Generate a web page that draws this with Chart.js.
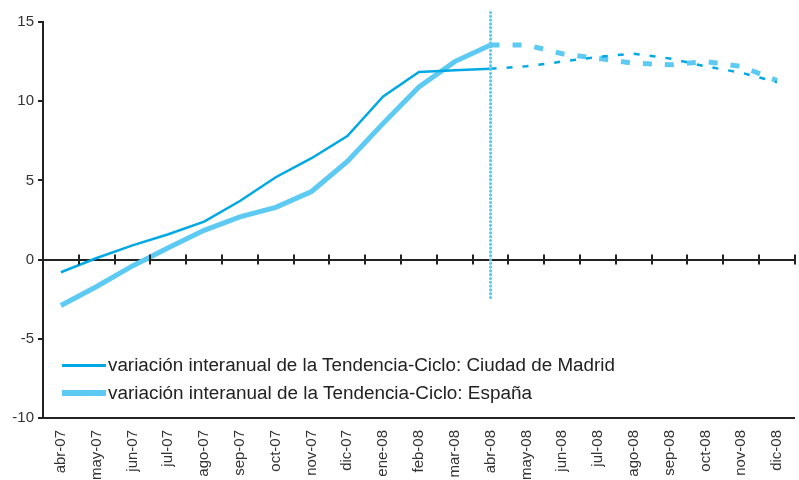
<!DOCTYPE html>
<html>
<head>
<meta charset="utf-8">
<script src="https://cdn.jsdelivr.net/npm/chart.js@4/dist/chart.umd.min.js"></script>
<style>
  html, body { margin: 0; padding: 0; background: #fff; }
  #wrap { position: relative; width: 799px; height: 480px; }
  .sw { position: absolute; left: 62px; width: 44px; }
  .lbl { position: absolute; left: 108px; font-family: "Liberation Sans", Arial, sans-serif; font-size: 18px; color: #222; white-space: nowrap; line-height: 20px; transform-origin: left center; }
</style>
</head>
<body>
<div id="wrap">
  <canvas id="chart" width="799" height="480"></canvas>
  <div class="sw" style="top:364px;height:3px;background:#00a8e4"></div>
  <div class="lbl" id="l1" style="top:355px">variación interanual de la Tendencia-Ciclo: Ciudad de Madrid</div>
  <div class="sw" style="top:390px;height:6px;background:#5ccaf2"></div>
  <div class="lbl" id="l2" style="top:383px">variación interanual de la Tendencia-Ciclo: España</div>
</div>
<script>
const months = ['abr-07', 'may-07', 'jun-07', 'jul-07', 'ago-07', 'sep-07', 'oct-07', 'nov-07', 'dic-07',
  'ene-08', 'feb-08', 'mar-08', 'abr-08', 'may-08', 'jun-08', 'jul-08', 'ago-08', 'sep-08', 'oct-08', 'nov-08', 'dic-08'];
const madrid = [-0.8, 0.1, 0.9, 1.6, 2.4, 3.7, 5.2, 6.4, 7.8, 10.3, 11.85, 11.95, 12.05,
  12.2, 12.5, 12.8, 13.0, 12.7, 12.2, 11.8, 11.2];
const espana = [-2.9, -1.7, -0.4, 0.75, 1.85, 2.7, 3.3, 4.3, 6.2, 8.6, 10.9, 12.5, 13.55,
  13.55, 13.0, 12.7, 12.4, 12.3, 12.5, 12.2, 11.3];
const yTicks = [-10, -5, 0, 5, 10, 15];
const forecastFrom = 12;          // index of abr-08, where the forecast starts
const cutLine = [15.6, -2.6];     // vertical dotted marker at abr-08

const FONT = '"Liberation Sans", Arial, sans-serif';

// fit legend text to the width seen in the reference
[['l1', 507], ['l2', 424]].forEach(([id, w]) => {
  const el = document.getElementById(id);
  el.style.transform = 'scaleX(' + (w / el.offsetWidth) + ')';
});

const dashAfter = (dash) => ctx => ctx.p0DataIndex >= forecastFrom ? dash : undefined;

// tick marks crossing the zero axis
const crossTicks = {
  id: 'crossTicks',
  afterDraw(chart) {
    const xs = chart.scales.x;
    const y0 = chart.scales.y.getPixelForValue(0);
    const step = xs.width / months.length;
    const ctx = chart.ctx;
    ctx.save();
    ctx.strokeStyle = '#222';
    ctx.lineWidth = 2;
    ctx.beginPath();
    for (let i = 1; i <= months.length; i++) {
      const px = Math.round(xs.left + i * step);
      ctx.moveTo(px, y0 - 5);
      ctx.lineTo(px, y0 + 5);
    }
    ctx.stroke();
    ctx.restore();
  }
};

new Chart(document.getElementById('chart'), {
  type: 'line',
  data: {
    labels: months,
    datasets: [
      {
        data: cutLine.map(v => ({ x: months[forecastFrom], y: v })),
        borderColor: '#5ccaf2',
        borderWidth: 3.2,
        borderDash: [0, 3.8],
        borderCapStyle: 'round',
        pointRadius: 0,
        clip: false
      },
      {
        data: madrid,
        borderColor: '#00a8e4',
        borderWidth: 2.5,
        pointRadius: 0,
        tension: 0,
        segment: { borderDash: dashAfter([6, 10]) }
      },
      {
        data: espana,
        borderColor: '#5ccaf2',
        borderWidth: 5,
        pointRadius: 0,
        tension: 0,
        segment: { borderDash: dashAfter([9, 13]) }
      }
    ]
  },
  options: {
    responsive: false,
    animation: false,
    layout: { padding: { top: 22, right: 0, left: 0, bottom: 0 } },
    plugins: { legend: { display: false }, tooltip: { enabled: false } },
    scales: {
      x: {
        type: 'category',
        position: { y: 0 },
        offset: true,
        ticks: { display: false },
        grid: { display: false },
        border: { color: '#222', width: 2 }
      },
      x2: {
        type: 'category',
        labels: months,
        position: 'bottom',
        offset: true,
        grid: { display: false },
        border: { color: '#222', width: 2 },
        ticks: { minRotation: 90, maxRotation: 90, autoSkip: false, color: '#333', padding: 4,
                 font: { family: FONT, size: 15 } },
        afterFit: s => { s.height = 62; }
      },
      y: {
        min: -10,
        max: 15,
        afterBuildTicks: s => { s.ticks = yTicks.map(v => ({ value: v })); },
        ticks: { color: '#333', padding: 4, font: { family: FONT, size: 15 } },
        grid: { drawOnChartArea: false, tickLength: 5, color: '#222', lineWidth: 2 },
        border: { color: '#222', width: 2 },
        afterFit: s => { s.width = 43; }
      }
    }
  },
  plugins: [crossTicks]
});
</script>
</body>
</html>
